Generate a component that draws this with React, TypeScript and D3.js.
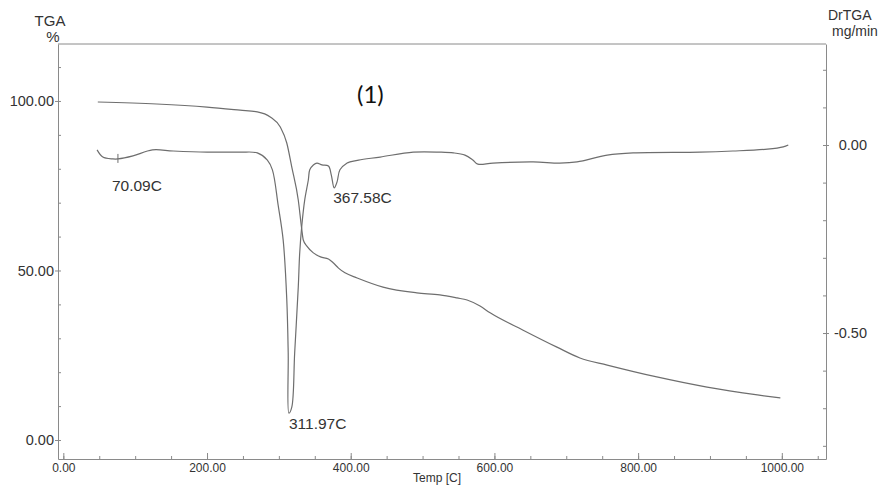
import { useEffect, useRef } from 'react';
import * as d3 from 'd3';

// TGA mass curve: temperature [C] and weight [%]
const tgaTemp = [48, 130, 200, 246, 270, 288, 302, 311, 318, 327, 332, 334, 339, 348, 358, 369, 376, 383, 392, 409, 445, 492, 524, 548, 562, 580, 594, 640, 687, 719, 757, 826, 896, 966, 998];
const tgaValue = [99.7, 99.1, 98.2, 97.3, 96.8, 95.3, 92.3, 87.6, 80.5, 70.8, 61.9, 59.0, 57.2, 55.2, 54.0, 53.4, 52.2, 50.7, 49.3, 47.8, 45.1, 43.4, 42.8, 41.9, 41.3, 39.5, 37.5, 32.4, 27.4, 24.2, 22.1, 18.6, 15.6, 13.3, 12.4];

// DrTGA derivative curve: temperature [C] and rate [mg/min]
const dtgTemp = [47, 55, 69, 76, 97, 124, 153, 200, 246, 270, 284, 291, 299, 306, 311, 313, 314, 318, 322, 327, 329, 332, 336, 341, 343, 348, 353, 360, 369, 373, 377, 381, 385, 395, 399, 411, 441, 487, 524, 543, 559, 570, 577, 598, 654, 691, 715, 757, 793, 886, 932, 980, 1002, 1009];
const dtgValue = [-0.013, -0.032, -0.037, -0.037, -0.029, -0.013, -0.016, -0.019, -0.019, -0.021, -0.040, -0.066, -0.16, -0.253, -0.41, -0.553, -0.713, -0.697, -0.553, -0.378, -0.287, -0.213, -0.146, -0.093, -0.066, -0.053, -0.048, -0.053, -0.056, -0.080, -0.114, -0.098, -0.066, -0.048, -0.045, -0.040, -0.032, -0.019, -0.019, -0.021, -0.027, -0.040, -0.051, -0.048, -0.045, -0.048, -0.045, -0.027, -0.021, -0.019, -0.016, -0.011, -0.005, 0.0];

// annotated DrTGA points
const peakTemps = [76, 314, 377];
const peakLabels = ['70.09C', '311.97C', '367.58C'];

const xMajor = [0, 200, 400, 600, 800, 1000];
const xMinor = d3.range(0, 1051, 50);
const leftMajor = [0, 50, 100];
const leftMinor = d3.range(0, 111, 10);
const rightMajor = [-0.5, 0];
const rightMinor = d3.range(-8, 3).map(d => d / 10);

// plain hyphen minus, like the instrument printout
const fmt = (d: any) => d3.format('.2f')(d).replace('\u2212', '-');

export default function App() {
  const svgRef = useRef<SVGSVGElement | null>(null);
  const width = 886;
  const height = 490;

  useEffect(() => {
    if (!svgRef.current) return;
    const svg = d3.select(svgRef.current);
    svg.selectAll('*').remove();

    const left = 58, right = 826, top = 44, bottom = 459;
    const axisColor = '#8a8a8a';
    const lineColor = '#6e6e6e';
    const textColor = '#333';
    const font = '"Liberation Sans", Arial, sans-serif';

    const x = d3.scaleLinear().domain([-7.4, 1061.5]).range([left, right]);
    const yL = d3.scaleLinear().domain([-5.6, 116.8]).range([bottom, top]);
    const yR = d3.scaleLinear().domain([-0.835, 0.2686]).range([bottom, top]);

    svg.append('rect').attr('width', width).attr('height', height).attr('fill', '#fff');

    const styleAxis = (g: any, size: number) => {
      g.select('.domain').attr('stroke', axisColor);
      g.selectAll('.tick line').attr('stroke', axisColor);
      g.selectAll('.tick text')
        .attr('fill', textColor)
        .style('font-family', font)
        .style('font-size', size + 'px');
    };

    // bottom axis
    const gx = svg.append('g').attr('transform', `translate(0,${bottom})`);
    gx.call(d3.axisBottom(x).tickValues(xMinor).tickSize(-3).tickSizeOuter(0).tickFormat(() => ''));
    gx.append('g').call(d3.axisBottom(x).tickValues(xMajor).tickSize(-6).tickSizeOuter(0).tickPadding(4).tickFormat(fmt))
      .call(g => g.select('.domain').remove());
    styleAxis(gx, 12);

    // left axis
    const gl = svg.append('g').attr('transform', `translate(${left},0)`);
    gl.call(d3.axisLeft(yL).tickValues(leftMinor).tickSize(-3).tickSizeOuter(0).tickFormat(() => ''));
    gl.append('g').call(d3.axisLeft(yL).tickValues(leftMajor).tickSize(3).tickSizeOuter(0).tickPadding(1).tickFormat(fmt))
      .call(g => g.select('.domain').remove());
    styleAxis(gl, 14.5);

    // right axis
    const gr = svg.append('g').attr('transform', `translate(${right},0)`);
    gr.call(d3.axisRight(yR).tickValues(rightMinor).tickSize(-3).tickSizeOuter(0).tickFormat(() => ''));
    gr.append('g').call(d3.axisRight(yR).tickValues(rightMajor).tickSize(3).tickSizeOuter(0).tickFormat(fmt))
      .call(g => g.select('.domain').remove())
      .call(g => g.selectAll('.tick line').attr('x1', -3))
      .call(g => g.selectAll('.tick text').attr('text-anchor', 'end').attr('x', 41));
    styleAxis(gr, 14.5);

    // top border
    svg.append('line')
      .attr('x1', left).attr('x2', right).attr('y1', top).attr('y2', top)
      .attr('stroke', axisColor);

    // TGA curve
    const tgaData = tgaTemp.map((t, i) => ({ t, v: tgaValue[i] }));
    svg.append('path')
      .datum(tgaData)
      .attr('fill', 'none')
      .attr('stroke', lineColor)
      .attr('stroke-width', 1.2)
      .attr('d', d3.line<any>().x(d => x(d.t)).y(d => yL(d.v)).curve(d3.curveMonotoneX));

    // DrTGA curve
    const dtgData = dtgTemp.map((t, i) => ({ t, v: dtgValue[i] }));
    svg.append('path')
      .datum(dtgData)
      .attr('fill', 'none')
      .attr('stroke', lineColor)
      .attr('stroke-width', 1.2)
      .attr('d', d3.line<any>().x(d => x(d.t)).y(d => yR(d.v)).curve(d3.curveCatmullRom.alpha(0.5)));

    // peak annotations
    const offsets = [[-6, 32], [0, 16], [-1, 15]];
    peakTemps.forEach((t, i) => {
      const p = dtgData.find(d => d.t === t)!;
      const px = x(p.t), py = yR(p.v);
      if (i === 0) {
        svg.append('line')
          .attr('x1', px).attr('x2', px).attr('y1', py - 5).attr('y2', py + 4)
          .attr('stroke', lineColor);
      }
      svg.append('text')
        .attr('x', px + offsets[i][0])
        .attr('y', py + offsets[i][1])
        .attr('fill', textColor)
        .style('font-family', font)
        .style('font-size', '15.5px')
        .text(peakLabels[i]);
    });

    // axis titles
    const addText = (tx: number, ty: number, s: string, size: number, anchor = 'start', fam = font, fill = textColor) =>
      svg.append('text')
        .attr('x', tx).attr('y', ty)
        .attr('text-anchor', anchor)
        .attr('fill', fill)
        .style('font-family', fam)
        .style('font-size', size + 'px')
        .text(s);

    addText(50, 26, 'TGA', 15, 'middle');
    addText(53, 42, '%', 15, 'middle');
    addText(828, 20, 'DrTGA', 14);
    addText(832, 36, 'mg/min', 14);
    addText(413, 482, 'Temp [C]', 12);
    addText(357, 103, '(1)', 24, 'start', 'Lato, "Open Sans", sans-serif', '#111');
  }, []);

  return (
    <div style={{ position: 'absolute', left: 0, top: 0 }}>
      <svg ref={svgRef} width={width} height={height} style={{ display: 'block' }}></svg>
    </div>
  );
}
